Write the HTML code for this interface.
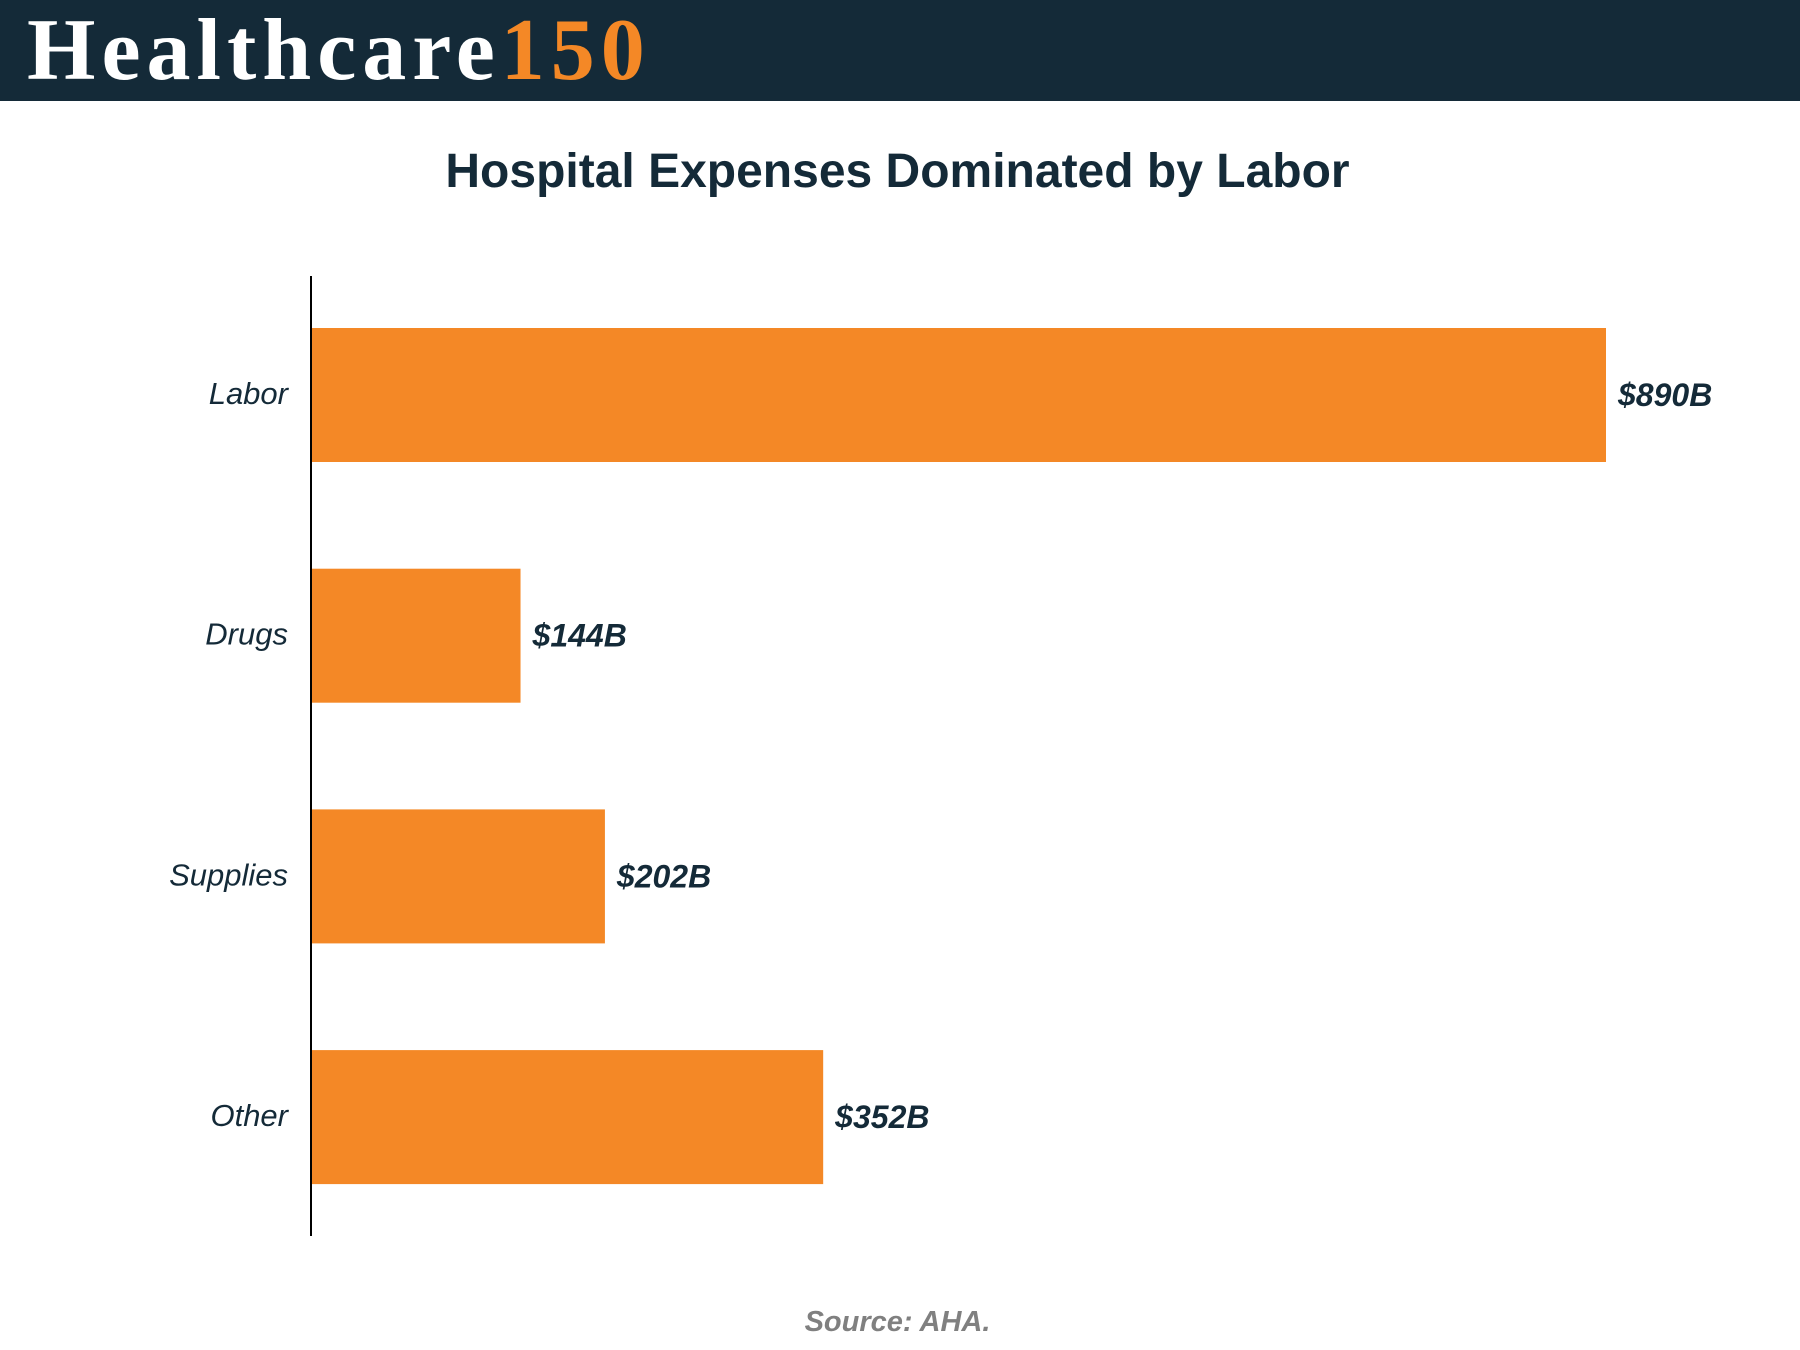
<!DOCTYPE html>
<html><head><meta charset="utf-8"><style>
body{margin:0;width:1800px;height:1350px;background:#fff;overflow:hidden;font-family:"Liberation Sans",sans-serif}
#hdr{position:absolute;left:0;top:0;width:1800px;height:101px;background:#142a38}
#logo{position:absolute;left:27px;top:0px;font-family:"Liberation Serif",serif;font-weight:bold;font-size:88px;color:#fff;letter-spacing:6px;white-space:nowrap}
#logo span{color:#f48826}
#title{position:absolute;left:0;width:1795px;top:144px;text-align:center;font-size:48px;font-weight:bold;color:#142a38}
#src{position:absolute;left:0;width:1795px;top:1306px;text-align:center;font-size:29px;font-weight:bold;font-style:italic;color:#808080}
</style></head><body>
<div id="hdr"><div id="logo">Healthcare<span>150</span></div></div>
<div id="title">Hospital Expenses Dominated by Labor</div>
<svg id="chart" width="1800" height="1350" style="position:absolute;left:0;top:0"></svg>
<div id="src">Source: AHA.</div>
<script>
const categories=["Labor","Drugs","Supplies","Other"];
const values=[890,144,202,352];
const valueLabels=["$890B","$144B","$202B","$352B"];
const NS="http://www.w3.org/2000/svg";
const svg=document.getElementById('chart');
const x0=311,pxPer=1295/890;
const xScale=v=>x0+v*pxPer;
const bandTop=328,bandStep=240.7,barH=134;
const yScale=i=>bandTop+i*bandStep;
categories.forEach((c,i)=>{
  const y=yScale(i);
  const r=document.createElementNS(NS,'rect');
  r.setAttribute('x',x0);r.setAttribute('y',y);
  r.setAttribute('width',xScale(values[i])-x0);r.setAttribute('height',barH);
  r.setAttribute('fill','#f48826');
  
  
  svg.appendChild(r);
  const t=document.createElementNS(NS,'text');
  t.setAttribute('x',288);t.setAttribute('y',y+barH/2+9);
  t.setAttribute('text-anchor','end');t.setAttribute('font-size','31');
  t.setAttribute('font-style','italic');t.setAttribute('fill','#142a38');
  t.setAttribute('font-family','Liberation Sans, sans-serif');
  t.textContent=c;
  
  
  svg.appendChild(t);
  const v=document.createElementNS(NS,'text');
  v.setAttribute('x',xScale(values[i])+12);v.setAttribute('y',y+barH/2+11);
  v.setAttribute('font-size','32');v.setAttribute('font-weight','bold');
  v.setAttribute('font-style','italic');v.setAttribute('fill','#142a38');
  v.setAttribute('font-family','Liberation Sans, sans-serif');
  v.textContent=valueLabels[i];
  
  
  svg.appendChild(v);
});
const ax=document.createElementNS(NS,'line');
ax.setAttribute('x1',x0);ax.setAttribute('x2',x0);ax.setAttribute('y1',276);ax.setAttribute('y2',1236);
ax.setAttribute('stroke','#000');ax.setAttribute('stroke-width','2');


svg.appendChild(ax);
</script>
</body></html>
